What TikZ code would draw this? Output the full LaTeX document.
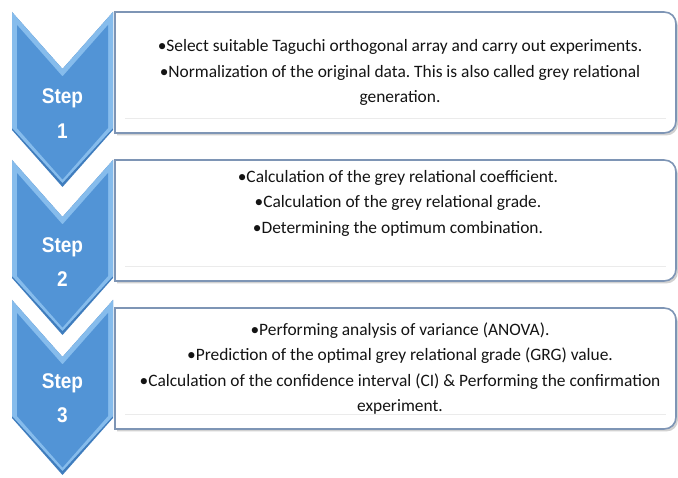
\documentclass[tikz,border=0pt]{standalone}
\usepackage{fontspec}
\setmainfont{Carlito}
\newfontfamily\stepfont{Liberation Sans}
\frenchspacing
\definecolor{chevmain}{HTML}{5294D6}
\definecolor{chevlight}{HTML}{86BCEC}
\definecolor{chevdark}{HTML}{3F7DBE}
\definecolor{boxline}{HTML}{7E95B5}
\definecolor{txt}{HTML}{141414}
\newcommand\mychev[1]{%
  \fill[chevdark] (12,#1) -- (62.5,{#1+57}) -- (113,#1) -- (113,{#1+118}) -- (62.5,{#1+175}) -- (12,{#1+118}) -- cycle;
  \fill[chevlight] (12,#1) -- (62.5,{#1+57}) -- (113,#1) -- (113,{#1+116}) -- (62.5,{#1+171}) -- (12,{#1+116}) -- cycle;
  \fill[chevmain] (17,{#1+13}) -- (62.5,{#1+64.5}) -- (108,{#1+13}) -- (108,{#1+116}) -- (62.5,{#1+167.5}) -- (17,{#1+116}) -- cycle;
}
\newcommand\mybox[2]{%
  \fill[black!18] (117,{#1+2.5}) -- (666,{#1+2.5}) .. controls (673,{#1+2.5}) and (678,{#1+7.5}) .. (678,{#1+14.5}) -- (678,{#2-9.5}) .. controls (678,{#2-2.5}) and (673,{#2+2.5}) .. (666,{#2+2.5}) -- (117,{#2+2.5}) -- cycle;
  \draw[stepbox] (115,#1) -- (664,#1) .. controls (671,#1) and (676,{#1+5}) .. (676,{#1+12}) -- (676,{#2-12}) .. controls (676,{#2-5}) and (671,#2) .. (664,#2) -- (115,#2) -- cycle;
  \draw[black!8, line width=1pt] (125,{#2-14}) -- (666,{#2-14});
}
\begin{document}
\begin{tikzpicture}[x=1pt,y=-1pt,
  stepbox/.style={draw=boxline, line width=1.6pt, fill=white},
  item/.style={text=txt, font=\fontsize{17.4}{25.5}\selectfont, align=center, inner sep=0pt},
  steplab/.style={text=white, font=\stepfont\bfseries\fontsize{19}{22}\selectfont, inner sep=0pt, yscale=1.12}]
\useasboundingbox (0,0) rectangle (678,478);
\fill[white] (0,0) rectangle (678,478);
% chevrons
\mychev{12}
\mychev{160}
\mychev{300}
% boxes
\mybox{12}{133}
\mybox{160}{281}
\mybox{308}{429}
% step labels
\node[steplab] (s1a) at (62.5,98) {Step};
\node[steplab] (s1b) at (62.5,131) {1};
\node[steplab] (s2a) at (62.5,247) {Step};
\node[steplab] (s2b) at (62.5,279) {2};
\node[steplab] (s3a) at (62.5,383) {Step};
\node[steplab] (s3b) at (62.5,415) {3};
% texts
\node[item] (t1) at (400,72.5) {•Select suitable Taguchi orthogonal array and carry out experiments.\\ •Normalization of the original data. This is also called grey relational\\ generation.};
\node[item] (t2) at (398,203) {•Calculation of the grey relational coefficient.\\ •Calculation of the grey relational grade.\\ •Determining the optimum combination.};
\node[item] (t3) at (400,368.5) {•Performing analysis of variance (ANOVA).\\ •Prediction of the optimal grey relational grade (GRG) value.\\ •Calculation of the confidence interval (CI) \& Performing the confirmation\\ experiment.};
\end{tikzpicture}
\end{document}
